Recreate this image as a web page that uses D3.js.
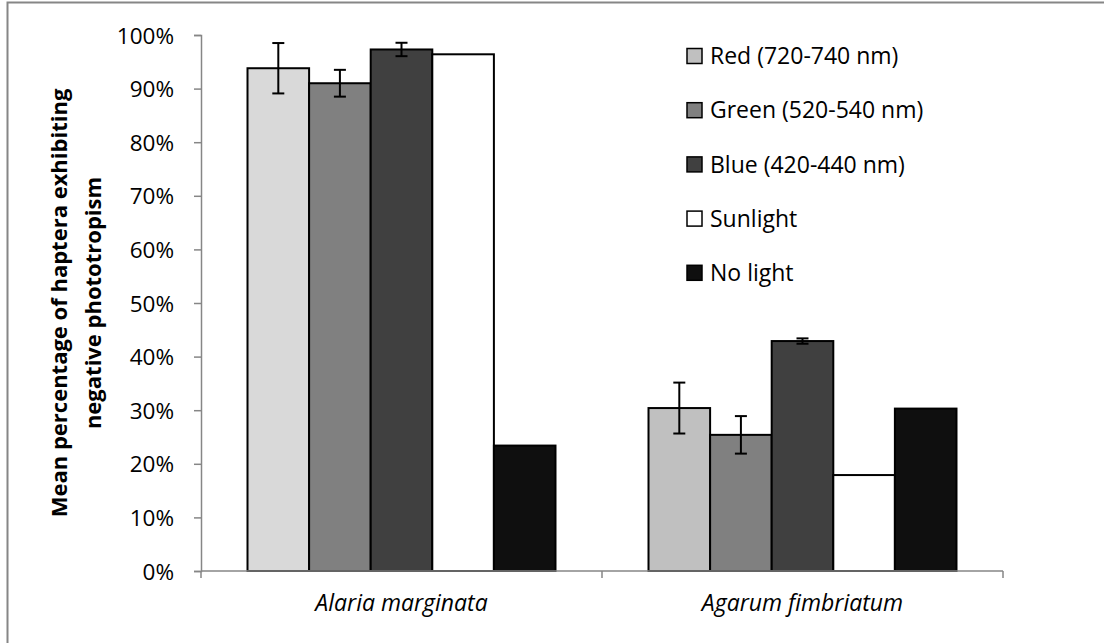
<!DOCTYPE html>
<html>
<head>
<meta charset="utf-8">
<script src="https://cdn.jsdelivr.net/npm/d3@7"></script>
<style>
  body { margin: 0; background: #fff; }
  svg text { font-family: "Open Sans", Lato, sans-serif; fill: #000; }
</style>
</head>
<body>
<div id="chart"></div>
<script>
// values (percent)
const categories = ["Alaria marginata", "Agarum fimbriatum"]
const series = ["Red (720-740 nm)", "Green (520-540 nm)", "Blue (420-440 nm)", "Sunlight", "No light"]
const alariaMeans = [93.8, 91.0, 97.3, 96.4, 23.4]
const alariaErrors = [4.7, 2.5, 1.25, null, null]
const agarumMeans = [30.4, 25.4, 42.9, 17.9, 30.3]
const agarumErrors = [4.75, 3.5, 0.5, null, null]
const yTicks = [0, 10, 20, 30, 40, 50, 60, 70, 80, 90, 100]

const seriesColors = ["#c0c0c0", "#808080", "#404040", "#ffffff", "#0f0f0f"]
// the Alaria red bar is a lighter grey than the rest of its series
const alariaColors = ["#d9d9d9", "#808080", "#404040", "#ffffff", "#0f0f0f"]

const width = 1104, height = 643
const axisColor = "#868686"

const rows = [
  { cat: categories[0], means: alariaMeans, errs: alariaErrors, colors: alariaColors },
  { cat: categories[1], means: agarumMeans, errs: agarumErrors, colors: seriesColors }
]

const svg = d3.select("#chart").append("svg")
  .attr("width", width)
  .attr("height", height)

// chart area border (right/bottom edges fall outside the picture)
svg.append("rect")
  .attr("x", 7.5).attr("y", 2.5)
  .attr("width", 1110).attr("height", 660)
  .attr("fill", "none")
  .attr("stroke", axisColor)
  .attr("stroke-width", 2)

const y = d3.scaleLinear().domain([0, 100]).range([571, 35])
const x0 = d3.scaleBand().domain(categories).range([201, 1003]).paddingInner(0).paddingOuter(0)
const x1 = d3.scaleBand().domain(series).range([0, x0.bandwidth()]).paddingInner(0).paddingOuter(0.755)

// y axis
const yAxis = svg.append("g")
  .attr("transform", "translate(201,0)")
  .call(d3.axisLeft(y).tickValues(yTicks).tickFormat(d => d + "%").tickSize(7).tickPadding(20))
yAxis.select(".domain").attr("stroke", axisColor).attr("stroke-width", 1.5)
yAxis.selectAll(".tick line").attr("stroke", axisColor).attr("stroke-width", 1.5)
yAxis.selectAll(".tick text")
  .attr("font-size", 22.5)
  .attr("font-family", "Open Sans")
  .attr("fill", "#000")
  .attr("dy", "0.36em")

// bars
const groups = svg.selectAll(".grp")
  .data(rows)
  .enter().append("g")
  .attr("class", "grp")
  .attr("transform", d => "translate(" + x0(d.cat) + ",0)")

groups.selectAll("rect")
  .data(d => series.map((s, i) => ({ s: s, v: d.means[i], e: d.errs[i], c: d.colors[i] })))
  .enter().append("rect")
  .attr("x", d => x1(d.s))
  .attr("y", d => y(d.v))
  .attr("width", x1.bandwidth())
  .attr("height", d => y(0) - y(d.v))
  .attr("fill", d => d.c)
  .attr("stroke", "#000")
  .attr("stroke-width", 2)

// error bars
const errs = groups.selectAll(".err")
  .data(d => series.map((s, i) => ({ s: s, v: d.means[i], e: d.errs[i] })).filter(d => d.e != null))
  .enter().append("g")
  .attr("class", "err")
  .attr("stroke", "#000")
  .attr("stroke-width", 2)
errs.append("line")
  .attr("x1", d => x1(d.s) + x1.bandwidth() / 2)
  .attr("x2", d => x1(d.s) + x1.bandwidth() / 2)
  .attr("y1", d => y(d.v + d.e))
  .attr("y2", d => y(d.v - d.e))
errs.selectAll(".cap")
  .data(d => [d.v + d.e, d.v - d.e].map(v => ({ s: d.s, v: v })))
  .enter().append("line")
  .attr("x1", d => x1(d.s) + x1.bandwidth() / 2 - 6)
  .attr("x2", d => x1(d.s) + x1.bandwidth() / 2 + 6)
  .attr("y1", d => y(d.v))
  .attr("y2", d => y(d.v))

// x axis
const xAxis = svg.append("g")
  .attr("transform", "translate(0," + y(0) + ")")
xAxis.append("line")
  .attr("x1", 201).attr("x2", 1003)
  .attr("stroke", axisColor).attr("stroke-width", 1.5)
const edges = [x0.range()[0]].concat(categories.map(c => x0(c) + x0.bandwidth()))
xAxis.selectAll(".edge")
  .data(edges)
  .enter().append("line")
  .attr("x1", d => d).attr("x2", d => d)
  .attr("y1", 0).attr("y2", 7)
  .attr("stroke", axisColor).attr("stroke-width", 1.5)
xAxis.selectAll(".lbl")
  .data(categories)
  .enter().append("text")
  .attr("x", d => x0(d) + x0.bandwidth() / 2)
  .attr("y", 40)
  .attr("text-anchor", "middle")
  .attr("font-size", 23)
  .attr("font-style", "italic")
  .text(d => d)

// y axis title
const yTitle = svg.append("text")
  .attr("transform", "translate(0," + (y(0) + y(100)) / 2 + ") rotate(-90)")
  .attr("text-anchor", "middle")
  .attr("font-size", 22)
  .attr("font-weight", "bold")
yTitle.append("tspan").attr("x", 0).attr("y", 67).text("Mean percentage of haptera exhibiting")
yTitle.append("tspan").attr("x", 0).attr("y", 101).text("negative phototropism")

// legend
const legend = svg.selectAll(".leg")
  .data(series)
  .enter().append("g")
  .attr("class", "leg")
  .attr("transform", (d, i) => "translate(687," + (56 + i * 54.2) + ")")
legend.append("rect")
  .attr("x", 0).attr("y", -7.5)
  .attr("width", 15).attr("height", 15)
  .attr("fill", (d, i) => seriesColors[i])
  .attr("stroke", "#000")
  .attr("stroke-width", 1.5)
legend.append("text")
  .attr("x", 23)
  .attr("y", 0)
  .attr("dy", "0.36em")
  .attr("font-size", 23)
  .text(d => d)
</script>
</body>
</html>
